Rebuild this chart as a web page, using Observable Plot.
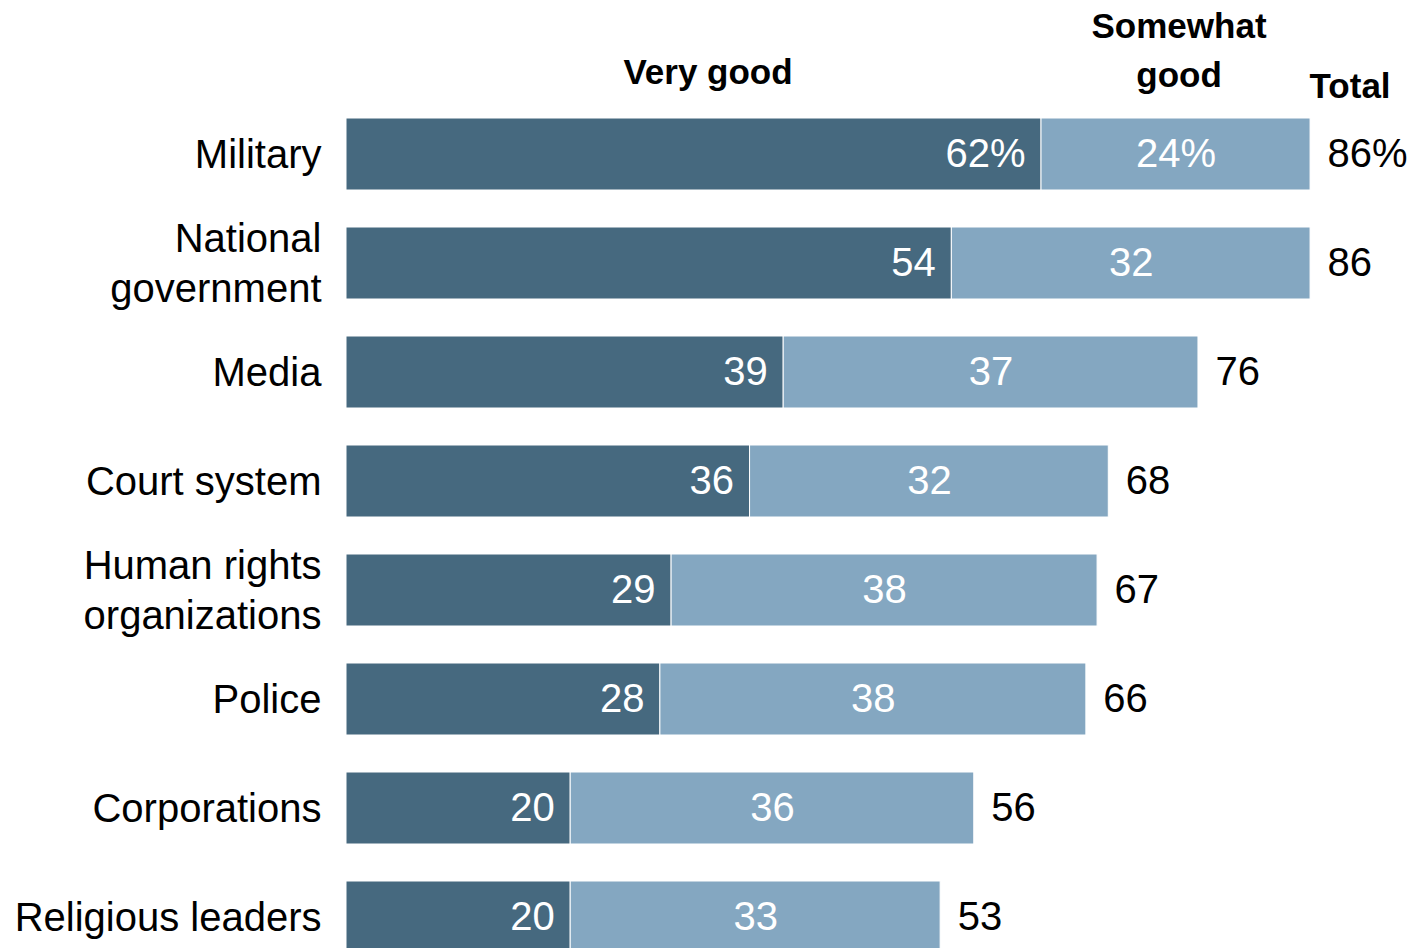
<!DOCTYPE html>
<html>
<head>
<meta charset="utf-8">
<script src="https://cdn.jsdelivr.net/npm/d3@7"></script>
<script src="https://cdn.jsdelivr.net/npm/@observablehq/plot@0.6"></script>
<style>
  html, body { margin: 0; padding: 0; background: #fff; overflow: hidden; }
  #chart svg { display: block; }
</style>
</head>
<body>
<div id="chart"></div>
<script>
const categories = ["Military", "National\ngovernment", "Media", "Court system", "Human rights\norganizations", "Police", "Corporations", "Religious leaders"];
const veryGood = [62, 54, 39, 36, 29, 28, 20, 20];
const somewhatGood = [24, 32, 37, 32, 38, 38, 36, 33];
const total = [86, 86, 76, 68, 67, 66, 56, 53];
const headers = ["Very good", "Somewhat\ngood", "Total"];

const colors = {"Very good": "#46697f", "Somewhat good": "#84a7c1"};

const rows = categories.map((c, i) => ({cat: c, vg: veryGood[i], sg: somewhatGood[i], total: total[i], first: i === 0}));
const long = rows.flatMap(r => [
  {cat: r.cat, series: "Very good", value: r.vg},
  {cat: r.cat, series: "Somewhat good", value: r.sg}
]);
const fmt = (v, r) => r.first ? v + "%" : String(v);

const bodyFont = "'Liberation Sans', Arial, sans-serif";
const headFont = "'Liberation Sans Narrow', 'Liberation Sans', Arial, sans-serif";

const m = rows[0];
const headerData = [
  {label: headers[0], x: m.vg / 2, anchor: "middle", dx: 14, dy: 49},
  {label: headers[1], x: m.vg + m.sg / 2, anchor: "middle", dx: 3, dy: 3},
  {label: headers[2], x: m.total, anchor: "start", dx: -1, dy: 63}
];

const chart = Plot.plot({
  width: 1411,
  height: 948,
  marginTop: 0, marginLeft: 0, marginRight: 0, marginBottom: 0,
  style: {fontFamily: bodyFont, background: "white"},
  x: {domain: [0, 100], range: [346, 1467], axis: null},
  y: {domain: categories, range: [118, 953], paddingInner: 37 / 109, paddingOuter: 0, axis: null},
  color: {domain: Object.keys(colors), range: Object.values(colors)},
  marks: [
    Plot.barX(long, Plot.stackX({x: "value", y: "cat", fill: "series", order: null, stroke: "white", strokeWidth: 1})),
    Plot.text(rows, {x: "vg", y: "cat", text: r => fmt(r.vg, r), textAnchor: "end", dx: -16, fill: "white", fontSize: 40}),
    Plot.text(rows, {x: r => r.vg + r.sg / 2, y: "cat", text: r => fmt(r.sg, r), textAnchor: "middle", fill: "white", fontSize: 40}),
    Plot.text(rows, {x: "total", y: "cat", text: r => fmt(r.total, r), textAnchor: "start", dx: 17, fill: "black", fontSize: 40}),
    Plot.text(rows, {x: 0, y: "cat", text: "cat", textAnchor: "end", dx: -25, dy: -3, fill: "black", fontSize: 40, lineHeight: 1.25}),
    ...headerData.map(h => Plot.text([h], {x: "x", frameAnchor: "top", text: "label", textAnchor: h.anchor, lineAnchor: "top", dx: h.dx, dy: h.dy, fontSize: 35, fontWeight: "bold", fontFamily: headFont, lineHeight: 1.4, fill: "black"}))
  ]
});
document.getElementById("chart").appendChild(chart);
</script>
</body>
</html>
